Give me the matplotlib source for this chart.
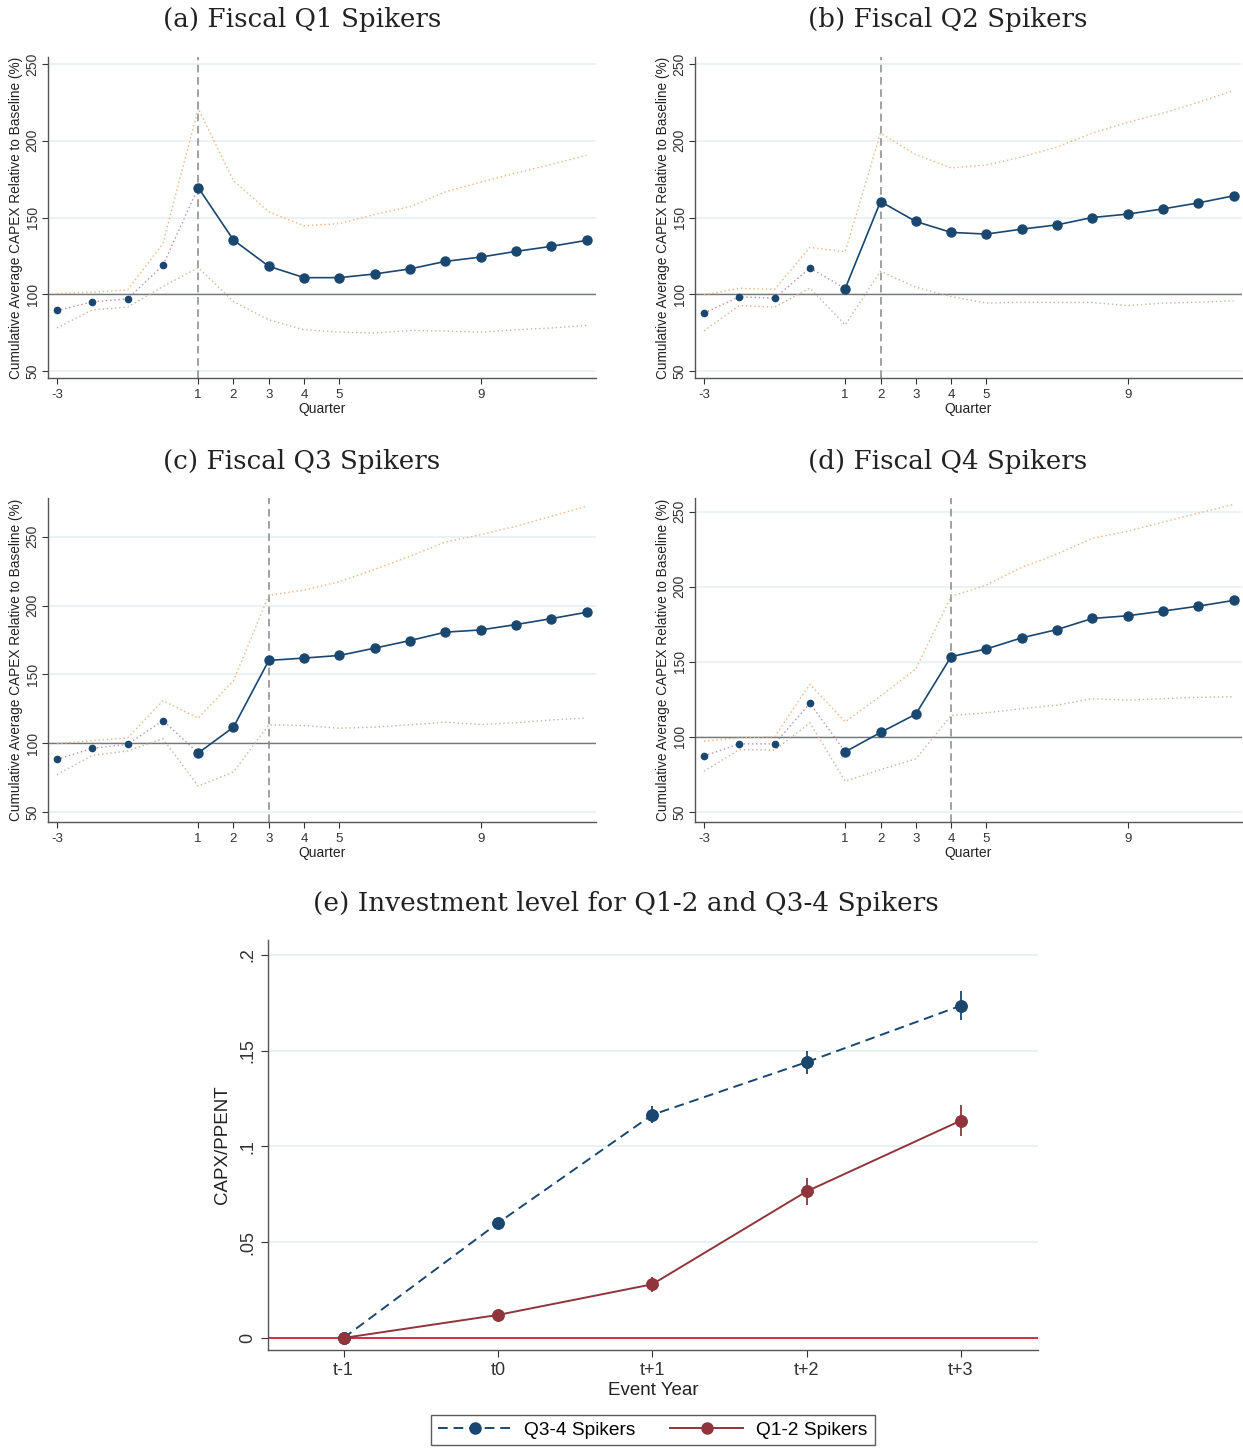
import matplotlib
matplotlib.use("Agg")
import matplotlib.pyplot as plt
from matplotlib.lines import Line2D
import numpy as np

# ---------------- data ----------------
quarters = [-3, -2, -1, 0, 1, 2, 3, 4, 5, 6, 7, 8, 9, 10, 11, 12]
xticks_q = [-3, 1, 2, 3, 4, 5, 9]

q1_est = [89.4, 95, 97, 118.8, 169.5, 135.3, 118.2, 110.8, 110.8, 113.2, 116.5, 121.4, 124.2, 127.9, 131.2, 135.1]
q1_hi = [100.6, 101.3, 102.8, 133, 221, 174, 153.7, 144.6, 146, 152, 157, 166.7, 173, 179, 184.6, 190.5]
q1_lo = [78, 89.8, 91.6, 105, 117.3, 95.2, 83.3, 76.8, 75.3, 74.7, 76.4, 76, 75.3, 76.8, 78, 79.7]

q2_est = [87.7, 98.3, 97.4, 117.1, 103.7, 160.4, 147.4, 140.3, 139.2, 142.4, 145.2, 150, 152.2, 155.6, 159.5, 164.1]
q2_hi = [99.6, 103.9, 103.2, 130.5, 127.7, 205, 191, 182.3, 184.2, 189.4, 195.9, 205, 212, 218, 225, 232.7]
q2_lo = [76.2, 92.6, 91.6, 104, 80, 115, 104.5, 98.5, 94.2, 94.8, 94.6, 94.6, 92.6, 94.2, 94.8, 95.7]

q3_est = [88.4, 96.4, 99.3, 116.6, 93, 111.8, 160.2, 161.9, 163.8, 169.1, 174.6, 180.7, 182.3, 186.2, 190.5, 195.1]
q3_hi = [99.8, 102, 104, 131, 118.3, 145.5, 207.4, 211.2, 217.3, 226.2, 235.8, 246, 251.4, 257.5, 264.7, 272]
q3_lo = [77.4, 91.3, 94.5, 103.4, 69, 79.3, 113.5, 113, 111, 111.8, 113.5, 115.4, 113.7, 115, 117, 118.5]

q4_est = [87.3, 95.3, 95.3, 122.3, 90, 102.9, 115.1, 153.4, 158.5, 165.9, 171.4, 178.8, 180.6, 183.7, 187, 190.8]
q4_hi = [97.1, 99.3, 100, 135, 110, 127.2, 145.1, 193.5, 201.1, 212.8, 221.7, 232.2, 236.9, 242.9, 248.9, 254.7]
q4_lo = [77.1, 91.5, 91.1, 109.3, 70.4, 78.2, 85.3, 114.2, 116, 118.7, 121.1, 125.4, 124.5, 125.4, 126.3, 126.7]

event_q = [1, 2, 3, 4]
titles = ["(a) Fiscal Q1 Spikers", "(b) Fiscal Q2 Spikers",
          "(c) Fiscal Q3 Spikers", "(d) Fiscal Q4 Spikers"]

event_years = ["t-1", "t0", "t+1", "t+2", "t+3"]
q34_val = [0.0, 0.060, 0.1165, 0.144, 0.1735]
q34_err = [0.0, 0.002, 0.0045, 0.006, 0.0075]
q12_val = [0.0, 0.012, 0.028, 0.0765, 0.1135]
q12_err = [0.0, 0.002, 0.004, 0.007, 0.008]

# ---------------- style ----------------
W, H = 1243, 1448
NAVY = "#1a476f"
MAROON = "#90353b"
RED = "#c8203a"
ORANGE = "#f0b27a"
LOWC = "#c8b49a"
PINK = "#c48aa0"
GRID = "#e6f0f2"
SPINE = "#555555"
SANS = ["Liberation Sans", "DejaVu Sans"]
SERIF = ["DejaVu Serif"]

fig = plt.figure(figsize=(W / 100, H / 100), dpi=100)
fig.patch.set_facecolor("white")


def px_axes(l, t, r, b):
    return fig.add_axes([l / W, 1 - b / H, (r - l) / W, (b - t) / H])


def style_axes(ax, lw=1.0):
    for s in ["top", "right"]:
        ax.spines[s].set_visible(False)
    for s in ["left", "bottom"]:
        ax.spines[s].set_color(SPINE)
        ax.spines[s].set_linewidth(lw)
    ax.tick_params(colors="#333333", direction="out", length=4, width=0.8)


panel_boxes = [(48, 57, 596, 378), (695, 57, 1242, 378),
               (48, 498, 596, 822), (695, 498, 1242, 822)]
ylims = [(45.4, 254.6), (45.4, 254.6), (43, 278), (43.3, 259)]
title_pos = [(302, 20), (948, 20), (302, 462), (948, 462)]
data = [(q1_est, q1_hi, q1_lo), (q2_est, q2_hi, q2_lo),
        (q3_est, q3_hi, q3_lo), (q4_est, q4_hi, q4_lo)]

qx = np.array(quarters)
for i in range(4):
    l, t, r, b = panel_boxes[i]
    ax = px_axes(l, t, r, b)
    est, hi, lo = [np.array(v) for v in data[i]]
    style_axes(ax)
    x0 = -3 - (57 - 48) / 35.3
    ax.set_xlim(x0, x0 + (r - l) / 35.3)
    ax.set_ylim(*ylims[i])
    yt = [50, 100, 150, 200, 250]
    for y in yt:
        ax.axhline(y, color=GRID, lw=1.2, zorder=0)
    ax.axhline(100, color="#777777", lw=1.0, zorder=1)
    ax.axvline(event_q[i], color="#888888", lw=1.1, ls=(0, (5, 3)), zorder=1)
    ax.plot(qx, hi, color=ORANGE, lw=1.0, ls=(0, (1, 2)), zorder=2)
    ax.plot(qx, lo, color=LOWC, lw=1.0, ls=(0, (1, 2)), zorder=2)
    pre = qx <= 1
    post = qx >= 1
    ax.plot(qx[pre], est[pre], color=PINK, lw=1.0, ls=(0, (1, 2)), zorder=3)
    ax.plot(qx[qx < 1], est[qx < 1], "o", color=NAVY, ms=4.5, zorder=4)
    ax.plot(qx[post], est[post], "-o", color=NAVY, ms=6.5, lw=1.2, zorder=4)
    ax.set_yticks(yt)
    ax.set_yticklabels([str(v) for v in yt], rotation=90, va="center",
                       fontsize=10, family=SANS)
    ax.set_xticks(xticks_q)
    ax.set_xticklabels([str(v) for v in xticks_q], fontsize=9.5, family=SANS)
    ax.tick_params(axis="x", pad=4)
    ax.tick_params(axis="y", pad=2)
    ax.set_xlabel("Quarter", fontsize=10, family=SANS, labelpad=1, color="#222222")
    ax.set_ylabel("Cumulative Average CAPEX Relative to Baseline (%)", fontsize=9.8,
                  family=SANS, labelpad=2, color="#222222")
    tx, ty = title_pos[i]
    fig.text(tx / W, 1 - ty / H, titles[i], ha="center", va="center",
             fontsize=18.8, family=SERIF, color="#222222")

# ---------------- panel (e) ----------------
ax = px_axes(268, 940, 1038, 1350)
style_axes(ax)
xe = np.arange(len(event_years))
ax.set_xlim(-0.49, 4.5)
ax.set_ylim(-0.0063, 0.2078)
yt = [0, 0.05, 0.1, 0.15, 0.2]
for y in yt:
    ax.axhline(y, color=GRID, lw=1.3, zorder=0)
ax.axhline(0, color=RED, lw=1.3, zorder=1)
ax.errorbar(xe, q34_val, yerr=q34_err, fmt="o", color=NAVY, ms=8, elinewidth=1.3,
            capsize=0, zorder=4)
ax.plot(xe, q34_val, color=NAVY, lw=1.4, ls=(0, (5, 3)), zorder=3,
        marker="o", ms=8)
ax.errorbar(xe, q12_val, yerr=q12_err, fmt="o", color=MAROON, ms=8, elinewidth=1.3,
            capsize=0, zorder=4)
ax.plot(xe, q12_val, color=MAROON, lw=1.4, zorder=3, marker="o", ms=8)
ax.set_yticks(yt)
ax.set_yticklabels(["0", ".05", ".1", ".15", ".2"], rotation=90, va="center",
                   fontsize=13, family=SANS)
ax.set_xticks(xe)
ax.set_xticklabels(event_years, fontsize=13, family=SANS)
ax.tick_params(length=5)
ax.set_xlabel("Event Year", fontsize=13.5, family=SANS, labelpad=2, color="#222222")
ax.set_ylabel("CAPX/PPENT", fontsize=13.5, family=SANS, labelpad=6, color="#222222")
fig.text(626 / W, 1 - 903 / H, "(e) Investment level for Q1-2 and Q3-4 Spikers",
         ha="center", va="center", fontsize=19, family=SERIF, color="#222222")

h1 = Line2D([], [], color=NAVY, lw=1.4, ls=(0, (5, 3)), marker="o", ms=8)
h2 = Line2D([], [], color=MAROON, lw=1.4, marker="o", ms=8)
fig.legend([h1, h2], ["Q3-4 Spikers", "Q1-2 Spikers"], loc="center",
           bbox_to_anchor=(653 / W, 1 - 1430 / H), ncol=2, frameon=True,
           fancybox=False, edgecolor="#333333",
           prop={"family": SANS, "size": 13.8}, handlelength=3.8,
           columnspacing=1.8, borderpad=0.35, handletextpad=0.7).get_frame().set_linewidth(1.0)

fig.savefig("out.png", dpi=100, facecolor="white")
